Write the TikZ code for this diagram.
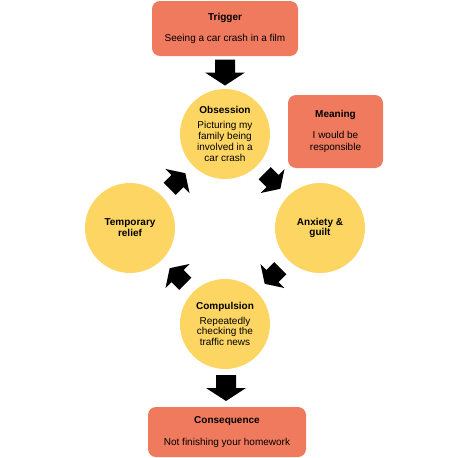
\documentclass[tikz,border=0pt]{standalone}
\usepackage{fontspec}
\setmainfont{Liberation Sans}
\usetikzlibrary{calc}
\definecolor{boxorange}{RGB}{240,122,94}
\definecolor{circyellow}{RGB}{253,213,99}
\begin{document}
\begin{tikzpicture}[x=1pt,y=-1pt,
  font=\fontsize{10}{10.8}\selectfont,
  box/.style={rectangle, rounded corners=8pt, fill=boxorange, align=center, inner sep=0pt},
  circ/.style={circle, fill=circyellow, minimum size=90pt, inner sep=0pt, align=center},
  blockarrow/.pic={\fill[black] (-13,-10) -- (0,-10) -- (0,-20) -- (13,0) -- (0,20) -- (0,10) -- (-13,10) -- cycle;}]
\useasboundingbox (0,0) rectangle (450,458);
% boxes
\node[box, minimum width=146pt, minimum height=55pt] (trig) at (225,28.5)
  {\textbf{Trigger}\\[10pt]Seeing a car crash in a film};
\node[box, minimum width=95pt, minimum height=73pt] (mean) at (335.5,131.5)
  {\textbf{Meaning}\\[10pt]I would be\\[2pt]responsible};
\node[box, minimum width=158pt, minimum height=50pt] (cons) at (227,432)
  {\textbf{Consequence}\\[11pt]Not finishing your homework};
% circles
\node[circ] (obs) at (225,134)
  {\textbf{Obsession}\\[4pt]Picturing my\\family being\\involved in a\\car crash};
\node[circ] (anx) at (320,228) {\textbf{Anxiety \&}\\\textbf{guilt}};
\node[circ] (comp) at (225,324)
  {\textbf{Compulsion}\\[4pt]Repeatedly\\checking the\\traffic news};
\node[circ] (rel) at (130,228) {\textbf{Temporary}\\\textbf{relief}};
% block arrows
\pic[rotate=-90] at ($(trig.south)!0.5!(obs.north)$) {blockarrow};
\pic[rotate=-45, scale=0.85] at ($(obs)!0.5!(anx)$) {blockarrow};
\pic[rotate=-135, scale=0.85] at ($(anx)!0.5!(comp)$) {blockarrow};
\pic[rotate=135, scale=0.85] at ($(comp)!0.5!(rel)$) {blockarrow};
\pic[rotate=45, scale=0.85] at ($(rel)!0.5!(obs)$) {blockarrow};
\pic[rotate=-90] at ($(comp.south)!0.5!(cons.north)$) {blockarrow};
\end{tikzpicture}
\end{document}
